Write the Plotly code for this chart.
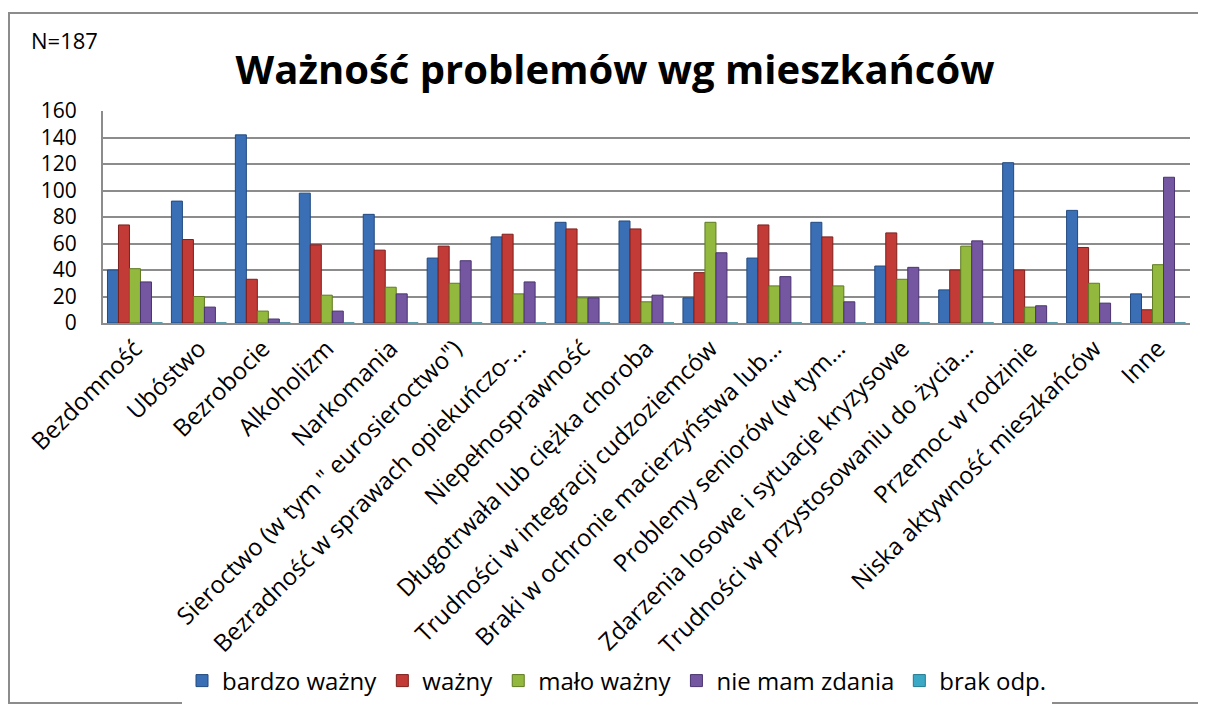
import plotly.graph_objects as go

categories = [
    "Bezdomność",
    "Ubóstwo",
    "Bezrobocie",
    "Alkoholizm",
    "Narkomania",
    "Sieroctwo (w tym \" eurosieroctwo\")",
    "Bezradność w sprawach opiekuńczo-…",
    "Niepełnosprawność",
    "Długotrwała lub ciężka choroba",
    "Trudności w integracji cudzoziemców",
    "Braki w ochronie macierzyństwa lub…",
    "Problemy seniorów (w tym…",
    "Zdarzenia losowe i sytuacje kryzysowe",
    "Trudności w przystosowaniu do życia…",
    "Przemoc w rodzinie",
    "Niska aktywność mieszkańców",
    "Inne",
]

bardzo_wazny = [40, 92, 142, 98, 82, 49, 65, 76, 77, 19, 49, 76, 43, 25, 121, 85, 22]
wazny = [74, 63, 33, 59, 55, 58, 67, 71, 71, 38, 74, 65, 68, 40, 40, 57, 10]
malo_wazny = [41, 20, 9, 21, 27, 30, 22, 19, 16, 76, 28, 28, 33, 58, 12, 30, 44]
nie_mam_zdania = [31, 12, 3, 9, 22, 47, 31, 19, 21, 53, 35, 16, 42, 62, 13, 15, 110]
brak_odp = [0] * 17

series_names = ["bardzo ważny", "ważny", "mało ważny", "nie mam zdania", "brak odp."]
series_values = [bardzo_wazny, wazny, malo_wazny, nie_mam_zdania, brak_odp]
colors = ["#3A6FB5", "#C23B37", "#93B83E", "#7556A0", "#3BA9C6"]
line_colors = ["#224A80", "#7E1F1C", "#5F7A22", "#4A3470", "#237A90"]

y_ticks = [0, 20, 40, 60, 80, 100, 120, 140, 160]

FONT = "Open Sans"

# page has an 8px body margin; work in reference-pixel coordinates
OFF = 8
W, H = 1206 - OFF, 715 - OFF
PL, PR, PT, PB = 103, 1190, 111, 323  # plot area in reference pixels
L = PL - OFF
R = W - (PR - OFF)
T = PT - OFF
B = H - (PB - OFF)
pw = W - L - R
ph = H - T - B


def px2x(px):
    return (px - OFF - L) / pw


def py2y(py):
    return (H - B - (py - OFF)) / ph


fig = go.Figure()
for name, vals, c, lc in zip(series_names, series_values, colors, line_colors):
    fig.add_trace(go.Bar(
        name=name, x=categories, y=vals,
        marker=dict(color=c, line=dict(color=lc, width=1)),
    ))

fig.update_layout(
    width=W, height=H,
    margin=dict(l=L, r=R, t=T, b=B),
    paper_bgcolor="white", plot_bgcolor="white",
    barmode="group", bargap=0.14, bargroupgap=0.0,
    font=dict(family=FONT, color="#000000"),
    title=dict(
        text="<b>Ważność problemów wg mieszkańców</b>",
        x=(615 - OFF) / W, xanchor="center",
        y=1 - (70 - OFF) / H, yanchor="middle",
        font=dict(size=40, family=FONT, color="#000000"),
    ),
    legend=dict(
        orientation="h", x=px2x(617), xanchor="center",
        y=py2y(681), yanchor="middle",
        font=dict(size=24, family=FONT),
        itemwidth=30, traceorder="normal",
    ),
    showlegend=True,
)

fig.update_yaxes(
    range=[0, 160], tickvals=y_ticks, ticktext=[str(v) for v in y_ticks],
    showgrid=True, gridcolor="#8C8C8C", gridwidth=2,
    showline=True, linecolor="#8C8C8C", linewidth=2,
    zeroline=False,
    tickfont=dict(size=21, family=FONT),
    ticks="", ticklabelstandoff=20,
)
fig.update_xaxes(
    tickangle=-45, tickfont=dict(size=24, family=FONT),
    showline=True, linecolor="#8C8C8C", linewidth=2,
    ticks="", showgrid=False,
)

fig.add_annotation(
    text="N=187", xref="paper", yref="paper",
    x=px2x(29), y=py2y(40), xanchor="left", yanchor="middle",
    showarrow=False, font=dict(size=22, family=FONT),
)

fig.add_shape(
    type="rect", xref="paper", yref="paper",
    x0=px2x(9), x1=px2x(1204), y0=py2y(703), y1=py2y(13),
    line=dict(color="#8C8C8C", width=2), fillcolor="rgba(0,0,0,0)",
    layer="below",
)

fig.write_html("out.html")
